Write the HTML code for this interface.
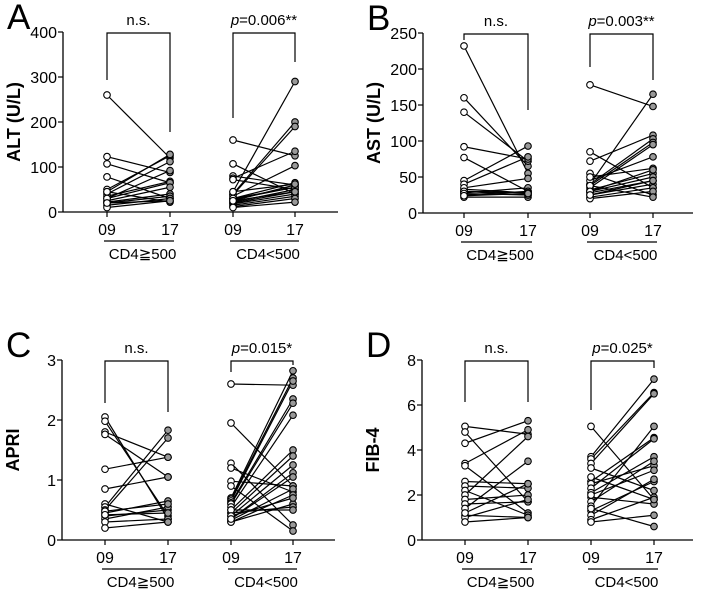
<!DOCTYPE html>
<html><head><meta charset="utf-8">
<style>
html,body{margin:0;padding:0;background:#fff;}
svg{display:block;font-family:"Liberation Sans",sans-serif;}
</style></head>
<body>
<svg id="chart" width="701" height="594" viewBox="0 0 701 594" xmlns="http://www.w3.org/2000/svg"></svg>
<script>
// Panel A: ALT
const altG1Pre  = [260,123,107,78,50,45,40,35,30,25,22,20,15,10,45,30,20];
const altG1Post = [120,88,65,30,125,128,112,68,65,55,40,35,30,25,22,92,25];
const altG2Pre  = [160,107,80,75,72,45,40,38,35,30,28,25,22,20,18,15,12,10,30,25,45];
const altG2Post = [125,40,60,135,50,290,200,190,103,65,55,60,50,45,40,35,30,22,55,45,62];
const altTicks = [0,100,200,300,400];
// Panel B: AST
const astG1Pre  = [232,160,140,92,77,45,40,33,30,28,25,22,35,30,27,24];
const astG1Post = [55,65,72,75,30,93,78,28,25,35,30,22,48,28,25,27];
const astG2Pre  = [178,85,72,40,40,38,35,45,55,50,32,30,28,25,22,20,38,30,25];
const astG2Post = [148,35,108,165,103,98,95,78,25,62,55,50,45,40,35,30,22,60,45];
const astTicks = [0,50,100,150,200,250];
// Panel C: APRI
const apriG1Pre  = [2.05,1.98,1.8,1.76,1.18,0.85,0.6,0.55,0.5,0.45,0.4,0.35,0.3,0.2,0.48,0.42];
const apriG1Post = [0.35,0.4,1.38,1.05,1.38,1.05,0.3,1.83,1.7,0.65,0.5,0.55,0.35,0.3,0.6,0.45];
const apriG2Pre  = [2.6,1.95,1.28,1.2,0.98,0.9,0.7,0.68,0.65,0.62,0.6,0.55,0.5,0.45,0.4,0.35,0.33,0.3,0.3,0.45,0.5,0.4,0.35];
const apriG2Post = [2.58,0.9,0.25,0.8,0.9,0.15,2.82,2.7,2.65,2.35,2.28,2.08,1.5,1.4,1.25,1.12,0.85,0.75,0.6,0.55,0.5,0.7,1.05];
const apriTicks = [0,1,2,3];
// Panel D: FIB-4
const fibG1Pre  = [5.05,4.8,4.3,3.4,3.3,2.6,2.4,2.2,2.0,1.8,1.6,1.4,1.1,1.0,0.8,1.2];
const fibG1Post = [4.7,1.7,5.3,4.9,1.2,2.5,2.3,1.1,4.6,2.0,1.7,3.5,1.0,1.8,1.0,2.5];
const fibG2Pre  = [5.05,3.7,3.6,3.4,3.2,2.6,2.5,2.3,2.1,1.9,1.7,1.5,1.3,1.1,0.9,0.8,2.0,1.4,2.8];
const fibG2Post = [1.8,7.15,6.55,6.5,2.2,4.55,3.3,4.5,3.7,1.6,3.5,5.05,2.6,2.7,1.9,1.1,3.1,0.6,1.8];
const fibTicks = [0,2,4,6,8];
const timeLabels = ["09","17"];
const groupLabels = ["CD4\u2267500","CD4<500"];

const NS="http://www.w3.org/2000/svg";
const svg=document.getElementById('chart');
function mk(tag,attrs,parent){const e=document.createElementNS(NS,tag);for(const k in attrs)e.setAttribute(k,attrs[k]);(parent||svg).appendChild(e);return e;}

function panel(cfg){
  const g=mk('g',{});
  
  
  const y=v=>cfg.y0-(v/cfg.max)*(cfg.y0-cfg.y1);
  const L=mk('text',{x:cfg.ax-56,y:cfg.y1-3,'font-size':35,fill:'#000'},g);
  L.textContent=cfg.letter;
  
  
  const ya=mk('line',{x1:cfg.ax,y1:cfg.y1,x2:cfg.ax,y2:cfg.y0,stroke:'#000','stroke-width':1.3},g);
  
  
  const xa=mk('line',{x1:cfg.ax,y1:cfg.y0,x2:cfg.xend,y2:cfg.y0,stroke:'#000','stroke-width':1.3},g);
  
  
  cfg.ticks.forEach(t=>{
    mk('line',{x1:cfg.ax-5,y1:y(t),x2:cfg.ax,y2:y(t),stroke:'#000','stroke-width':1.2},g);
    const tx=mk('text',{x:cfg.ax-6,y:y(t)+6,'font-size':16,'text-anchor':'end',fill:'#000'},g);
    tx.textContent=t;
    
    
  });
  const yt=mk('text',{x:0,y:0,'font-size':18,'font-weight':'bold','text-anchor':'middle',transform:`translate(${cfg.ax-43},${(cfg.y0+cfg.y1)/2}) rotate(-90)`},g);
  yt.textContent=cfg.title;
  
  
  cfg.groups.forEach((gr,gi)=>{
    const xs=[gr.x0,gr.x1];
    xs.forEach((xx,ti)=>{
      mk('line',{x1:xx,y1:cfg.y0,x2:xx,y2:cfg.y0+5,stroke:'#000','stroke-width':1.2},g);
      const tl=mk('text',{x:xx,y:cfg.y0+23,'font-size':16,'text-anchor':'middle'},g);
      tl.textContent=timeLabels[ti];
      
      
    });
    const ul=mk('line',{x1:gr.x0-3,y1:cfg.y0+29,x2:gr.x1+4,y2:cfg.y0+29,stroke:'#000','stroke-width':1.2},g);
    
    
    const gl=mk('text',{x:(gr.x0+gr.x1)/2+4,y:cfg.y0+47,'font-size':15,'text-anchor':'middle'},g);
    gl.textContent=groupLabels[gi];
    
    
    const bt=cfg.y1+1;
    const br=mk('polyline',{points:`${gr.x0},${gr.bl} ${gr.x0},${bt} ${gr.x1},${bt} ${gr.x1},${gr.br}`,fill:'none',stroke:'#000','stroke-width':1.2},g);
    
    
    const st=mk('text',{x:(gr.x0+gr.x1)/2,y:bt-8,'font-size':15,'text-anchor':'middle'},g);
    if(gr.sig==='ns'){st.textContent='n.s.';}
    else{const it=mk('tspan',{'font-style':'italic'},st);it.textContent='p';const r=mk('tspan',{},st);r.textContent=gr.sig;}
    
    
    gr.pre.forEach((v,i)=>{
      const ln=mk('line',{x1:gr.x0,y1:y(v),x2:gr.x1,y2:y(gr.post[i]),stroke:'#000','stroke-width':1.2},g);
      
      
    });
    gr.pre.forEach((v,i)=>{
      const c1=mk('circle',{cx:gr.x0,cy:y(v),r:3.3,fill:'#fff',stroke:'#000','stroke-width':1.1},g);
      
      
      const c2=mk('circle',{cx:gr.x1,cy:y(gr.post[i]),r:3.3,fill:'#999',stroke:'#000','stroke-width':1.1},g);
      
      
    });
  });
}

panel({letter:'A',title:'ALT (U/L)',ax:63,xend:338,y0:212,y1:32,max:400,ticks:altTicks,groups:[
 {x0:107,x1:170,pre:altG1Pre,post:altG1Post,sig:'ns',bl:80,br:132},
 {x0:233,x1:295,pre:altG2Pre,post:altG2Post,sig:'=0.006**',bl:118,br:62}]});
panel({letter:'B',title:'AST (U/L)',ax:423,xend:693,y0:213,y1:33,max:250,ticks:astTicks,groups:[
 {x0:464,x1:528,pre:astG1Pre,post:astG1Post,sig:'ns',bl:40,br:110},
 {x0:590,x1:653,pre:astG2Pre,post:astG2Post,sig:'=0.003**',bl:67,br:80}]});
panel({letter:'C',title:'APRI',ax:62,xend:335,y0:540,y1:360,max:3,ticks:apriTicks,groups:[
 {x0:105,x1:168,pre:apriG1Pre,post:apriG1Post,sig:'ns',bl:403,br:412},
 {x0:231,x1:293,pre:apriG2Pre,post:apriG2Post,sig:'=0.015*',bl:372,br:365}]});
panel({letter:'D',title:'FIB-4',ax:422,xend:693,y0:540,y1:360,max:8,ticks:fibTicks,groups:[
 {x0:465,x1:528,pre:fibG1Pre,post:fibG1Post,sig:'ns',bl:402,br:402},
 {x0:591,x1:654,pre:fibG2Pre,post:fibG2Post,sig:'=0.025*',bl:410,br:368}]});
</script>
</body></html>
